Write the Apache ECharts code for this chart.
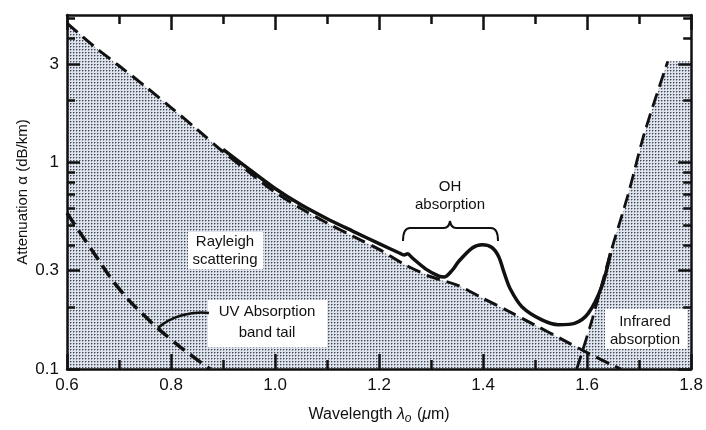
<!DOCTYPE html>
<html>
<head>
<meta charset="utf-8">
<script src="https://cdn.jsdelivr.net/npm/echarts@6/dist/echarts.min.js"></script>
<style>html,body{margin:0;padding:0;background:#fff}#c{width:706px;height:430px}</style>
</head>
<body>
<div id="c"></div>
<script>
// ---- data (wavelength in micrometres, attenuation in dB/km) ----
const xTickLabels = [0.6, 0.8, 1.0, 1.2, 1.4, 1.6, 1.8];
const yTickLabels = [0.1, 0.3, 1, 3];
const yMinorTicks = [0.2, 0.4, 0.5, 0.6, 0.7, 0.8, 0.9, 2, 4, 5];

const rayleighX = [0.6, 0.65, 0.7, 0.75, 0.8, 0.85, 0.9, 0.95, 1.0, 1.05, 1.1, 1.15, 1.2, 1.25, 1.3, 1.35, 1.4, 1.45, 1.5, 1.55, 1.6, 1.65, 1.665];
const rayleighY = [4.75, 3.7, 2.95, 2.35, 1.85, 1.45, 1.13, 0.9, 0.72, 0.6, 0.51, 0.44, 0.38, 0.32, 0.28, 0.255, 0.22, 0.19, 0.163, 0.14, 0.12, 0.104, 0.1];

const uvX = [0.6, 0.65, 0.7, 0.75, 0.8, 0.85, 0.875];
const uvY = [0.57, 0.37, 0.245, 0.18, 0.139, 0.111, 0.1];

const irX = [1.58, 1.61, 1.645, 1.68, 1.71, 1.755];
const irY = [0.1, 0.175, 0.365, 0.72, 1.39, 3.1];

const totalX = [0.9, 0.95, 1.0, 1.05, 1.1, 1.15, 1.2, 1.238, 1.248, 1.255, 1.263, 1.29, 1.315, 1.325, 1.34, 1.353, 1.379, 1.398, 1.417, 1.43, 1.44, 1.452, 1.475, 1.513, 1.545, 1.577, 1.602, 1.628, 1.645];
const totalY = [1.16, 0.93, 0.75, 0.625, 0.535, 0.465, 0.405, 0.366, 0.357, 0.362, 0.347, 0.305, 0.282, 0.279, 0.3, 0.332, 0.386, 0.4, 0.388, 0.35, 0.295, 0.245, 0.2, 0.173, 0.164, 0.167, 0.186, 0.251, 0.365];

const X_MIN = 0.6, X_MAX = 1.8, Y_MIN = 0.1, Y_MAX = 5.2;

// ---- helpers ----
const pairs = (xs, ys) => xs.map((x, i) => [x, ys[i]]);
const rayleigh = pairs(rayleighX, rayleighY);
const uv = pairs(uvX, uvY);
const ir = pairs(irX, irY);
const total = pairs(totalX, totalY);
const irShade = ir.concat([[X_MAX, irY[irY.length - 1]]]);

// stipple pattern
const pc = document.createElement('canvas');
pc.width = 3; pc.height = 3;
const pctx = pc.getContext('2d');
pctx.fillStyle = '#dfe4ec'; pctx.fillRect(0, 0, 3, 3);
pctx.fillStyle = '#959dab'; pctx.fillRect(2, 1, 1, 1); pctx.fillRect(1, 2, 1, 1);
pctx.fillStyle = '#3e4554'; pctx.fillRect(1, 1, 1, 1);
const stipple = { image: pc, repeat: 'repeat' };

const FONT = '"Liberation Sans", Arial, sans-serif';
const INK = '#111';

const chart = echarts.init(document.getElementById('c'), null, { renderer: 'canvas' });

const yBase = {
  type: 'log', logBase: 10, min: Y_MIN, max: Y_MAX, z: 6,
  splitLine: { show: false }, minorSplitLine: { show: false }
};

const curve = (x1, y1, cx, cy, x2, y2, w) => ({
  type: 'bezierCurve', z: 11,
  shape: { x1: x1, y1: y1, cpx1: cx, cpy1: cy, x2: x2, y2: y2 },
  style: { stroke: INK, lineWidth: w, fill: null }
});
const seg = (x1, y1, x2, y2, w) => ({
  type: 'line', z: 11, shape: { x1: x1, y1: y1, x2: x2, y2: y2 }, style: { stroke: INK, lineWidth: w }
});

const option = {
  animation: false,
  backgroundColor: '#fff',
  grid: { left: 67, right: 13, top: 15, bottom: 61 },
  xAxis: [
    {
      type: 'value', min: X_MIN, max: X_MAX, interval: 0.2, position: 'bottom', z: 6,
      name: '{a|Wavelength }{b|λ}{c|o}{a| (}{b|μ}{a|m)}',
      nameLocation: 'middle', nameGap: 35, nameMoveOverlap: false,
      nameTextStyle: {
        rich: {
          a: { fontFamily: FONT, fontSize: 16, color: INK },
          b: { fontFamily: FONT, fontSize: 16, fontStyle: 'italic', color: INK },
          c: { fontFamily: FONT, fontSize: 12, fontStyle: 'italic', color: INK, padding: [9, 1, 0, 0] }
        }
      },
      axisLine: { show: true, lineStyle: { color: INK, width: 2.5 } },
      axisTick: { show: true, inside: true, length: 15, lineStyle: { color: INK, width: 2.5 } },
      minorTick: { show: true, splitNumber: 2, length: 9, lineStyle: { color: INK, width: 2.5 } },
      axisLabel: { color: INK, fontFamily: FONT, fontSize: 17, margin: 8, formatter: v => v.toFixed(1) },
      splitLine: { show: false }
    },
    {
      type: 'value', min: X_MIN, max: X_MAX, interval: 0.2, position: 'top', z: 6,
      axisLine: { show: true, lineStyle: { color: INK, width: 2.5 } },
      axisTick: { show: true, inside: true, length: 15, lineStyle: { color: INK, width: 2.5 } },
      minorTick: { show: true, splitNumber: 2, length: 9, lineStyle: { color: INK, width: 2.5 } },
      axisLabel: { show: false },
      splitLine: { show: false }
    }
  ],
  yAxis: [
    Object.assign({}, yBase, {
      position: 'left',
      name: 'Attenuation α (dB/km)', nameLocation: 'middle', nameGap: 37, nameRotate: 90, nameMoveOverlap: false,
      nameTextStyle: { fontFamily: FONT, fontSize: 15, color: INK },
      axisLine: { show: true, lineStyle: { color: INK, width: 2.5 } },
      axisTick: { show: true, inside: true, length: 13, customValues: yTickLabels, lineStyle: { color: INK, width: 2.5 } },
      axisLabel: { show: true, customValues: yTickLabels, color: INK, fontFamily: FONT, fontSize: 17, margin: 8, formatter: v => String(v) }
    }),
    Object.assign({}, yBase, {
      position: 'left',
      axisLine: { show: false },
      axisTick: { show: true, inside: true, length: 8, customValues: yMinorTicks, lineStyle: { color: INK, width: 2.5 } },
      axisLabel: { show: false }
    }),
    Object.assign({}, yBase, {
      position: 'right',
      axisLine: { show: true, lineStyle: { color: INK, width: 2.5 } },
      axisTick: { show: true, inside: true, length: 13, customValues: yTickLabels, lineStyle: { color: INK, width: 2.5 } },
      axisLabel: { show: false }
    }),
    Object.assign({}, yBase, {
      position: 'right',
      axisLine: { show: false },
      axisTick: { show: true, inside: true, length: 8, customValues: yMinorTicks, lineStyle: { color: INK, width: 2.5 } },
      axisLabel: { show: false }
    })
  ],
  series: [
    {
      name: 'rayleighShade', type: 'line', data: rayleigh, smooth: 0.3, symbol: 'none',
      lineStyle: { width: 0, opacity: 0 }, areaStyle: { color: stipple, origin: 'start', opacity: 1 }, z: 1, silent: true
    },
    {
      name: 'irShade', type: 'line', data: irShade, smooth: false, symbol: 'none',
      lineStyle: { width: 0, opacity: 0 }, areaStyle: { color: stipple, origin: 'start', opacity: 1 }, z: 1, silent: true
    },
    {
      name: 'Rayleigh scattering', type: 'line', data: rayleigh, smooth: 0.3, symbol: 'none',
      lineStyle: { color: INK, width: 3, type: [14, 7] }, z: 3
    },
    {
      name: 'UV absorption', type: 'line', data: uv, smooth: 0.4, symbol: 'none',
      lineStyle: { color: INK, width: 3.5, type: [14, 7] }, z: 3
    },
    {
      name: 'Infrared absorption', type: 'line', data: ir, smooth: 0.3, symbol: 'none',
      lineStyle: { color: INK, width: 2.8, type: [14, 7] }, z: 3
    },
    {
      name: 'Total', type: 'line', data: total, smooth: 0.3, symbol: 'none',
      lineStyle: { color: INK, width: 3.5 }, z: 4
    }
  ],
  graphic: [
    { type: 'rect', shape: { x: 188, y: 232, width: 75, height: 37 }, style: { fill: '#fff' }, z: 10 },
    { type: 'text', x: 225, y: 251, z: 11, style: { text: 'Rayleigh\nscattering', align: 'center', verticalAlign: 'middle', fontFamily: FONT, fontSize: 15, lineHeight: 18, fill: INK } },
    { type: 'rect', shape: { x: 208, y: 300, width: 119, height: 47 }, style: { fill: '#fff' }, z: 10 },
    { type: 'text', x: 267, y: 322, z: 11, style: { text: 'UV Absorption\nband tail', align: 'center', verticalAlign: 'middle', fontFamily: FONT, fontSize: 15, lineHeight: 21, fill: INK } },
    { type: 'bezierCurve', z: 11, shape: { x1: 209, y1: 313, cpx1: 192, cpy1: 311, cpx2: 171, cpy2: 316, x2: 158, y2: 328 }, style: { stroke: INK, lineWidth: 2.5, fill: null } },
    { type: 'rect', shape: { x: 605, y: 309, width: 82, height: 40 }, style: { fill: '#fff' }, z: 10 },
    { type: 'text', x: 645, y: 331, z: 11, style: { text: 'Infrared\nabsorption', align: 'center', verticalAlign: 'middle', fontFamily: FONT, fontSize: 15, lineHeight: 18, fill: INK } },
    { type: 'text', x: 450, y: 196, z: 11, style: { text: 'OH\nabsorption', align: 'center', verticalAlign: 'middle', fontFamily: FONT, fontSize: 15, lineHeight: 18, fill: INK } },
    curve(403, 241, 403, 228, 410, 228, 2),
    seg(410, 228, 444, 228, 2),
    curve(444, 228, 449, 228, 450, 221, 2),
    curve(450, 221, 451, 228, 456, 228, 2),
    seg(456, 228, 491, 228, 2),
    curve(491, 228, 498, 228, 498, 241, 2)
  ]
};
chart.setOption(option);
</script>
</body>
</html>
